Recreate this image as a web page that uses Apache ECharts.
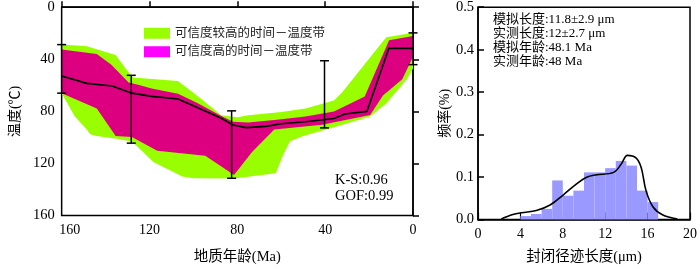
<!DOCTYPE html>
<html><head><meta charset="utf-8">
<script src="https://cdn.jsdelivr.net/npm/echarts@6/dist/echarts.min.js"></script>
<style>html,body{margin:0;padding:0;background:#fff}#c{width:700px;height:269px}</style>
</head><body><div id="c"></div>
<script>
// ---- left panel data (age Ma, temperature °C) ----
const ageTicks = [160, 120, 80, 40, 0];
const tempTicks = [0, 40, 80, 120, 160];
const greenTop = [[160,28.6],[148.5,30],[135.4,36.6],[130,49],[127.4,54],[107,56.6],[97.5,69],[87.3,83],[80,84.5],[75,83],[60,80.5],[49,77.8],[36,71.6],[32.6,66],[12.2,23],[0,19.5]];
const greenBottom = [[160,66],[154,84],[149,93],[147,97.5],[144,99],[135,101],[128,103.2],[118,119],[105,130],[100,131.4],[81.5,131.5],[62.5,127.6],[59,113],[56,103],[50,99],[37,92.7],[19.5,84],[12.2,74],[2.8,55.3],[0,47]];
const magentaTop = [[160,32.4],[144,36],[137.5,44],[129.5,57.8],[125.2,59.5],[119,62.5],[107,66.5],[98.2,73.5],[87.3,83.5],[82,88],[75,88.5],[62,86.5],[49,84],[36,80],[22,68.5],[10.9,25.4],[0,22]];
const magentaBottom = [[160,66],[144,77.8],[135.4,99],[128,99.7],[116.5,110.2],[94.6,114],[81.5,128.8],[73.4,111.4],[63.2,94],[41.4,90.2],[19.5,82.8],[13.7,67.8],[4.9,55.3],[0,38]];
const bestPath = [[160,52.8],[148.5,58.5],[137,60.5],[128,66],[119,68.5],[107,70.5],[99,76.5],[87.3,85.3],[82,90.5],[76,92.5],[67,91.5],[60,89.5],[49,88],[36,85.5],[31,82],[21,80],[11,31.6],[0,31.6]];
const errorBars = [[160,28.7,66],[128.3,52.3,104.4],[82.6,79.6,131.4],[40.3,41.1,92.7],[0,19.7,44.1]];
const fitText = ['K-S:0.96', 'GOF:0.99'];

// ---- right panel data (length µm, frequency) ----
const lengthTicks = [0, 4, 8, 12, 16, 20];
const freqTicks = [0, 0.1, 0.2, 0.3, 0.4, 0.5];
const binStart = [4,5,6,7,8,9,10,11,12,13,14,15,16];
const binFreq = [0.008,0.013,0.025,0.092,0.056,0.068,0.111,0.111,0.121,0.138,0.127,0.068,0.041];
const curveLen = [2.2,3.2,4.1,5.5,6.8,8.0,9.3,10.2,11.1,12.8,13.5,14.1,14.9,15.4,15.85,16.5,17.4,18.8];
const curveFreq = [0.001,0.011,0.016,0.021,0.034,0.057,0.084,0.099,0.105,0.111,0.130,0.151,0.145,0.122,0.068,0.030,0.011,0.001];
const statText = ['模拟长度:11.8±2.9 μm', '实测长度:12±2.7 μm', '模拟年龄:48.1 Ma', '实测年龄:48 Ma'];

const FF = "'Liberation Serif','Noto Sans CJK SC',serif";
const chart = echarts.init(document.getElementById('c'));

function polyRender(top, bottom) {
  return function (params, api) {
    if (params.dataIndex !== 0) return;
    const pts = top.map(p => api.coord(p)).concat(bottom.slice().reverse().map(p => api.coord(p)));
    return { type: 'polygon', shape: { points: pts }, style: { fill: api.visual('color') } };
  };
}

const commonAxisLine = { show: true, lineStyle: { color: '#000', width: 1.5 } };

chart.setOption({
  animation: false,
  grid: [
    { left: 47, top: 6, width: 366, height: 214, show: true, borderColor: '#000', borderWidth: 1.5 },
    { left: 478, top: 6, width: 213, height: 217, show: true, borderColor: '#000', borderWidth: 1.5 }
  ],
  legend: {
    left: 139, top: 22, orient: 'vertical', itemWidth: 26, itemHeight: 11, itemGap: 6, icon: 'rect',
    selectedMode: false,
    textStyle: { fontSize: 12.5, color: '#222', fontFamily: FF },
    data: [
      { name: '可信度较高的时间－温度带', itemStyle: { color: '#99ff00' } },
      { name: '可信度高的时间－温度带', itemStyle: { color: '#ff00ff' } }
    ]
  },
  xAxis: [
    {
      gridIndex: 0, type: 'value', min: 0, max: 160, interval: 40, inverse: true,
      name: '地质年龄(Ma)', nameLocation: 'middle', nameGap: 34,
      nameTextStyle: { fontSize: 14.5, color: '#000', fontFamily: FF },
      axisLine: commonAxisLine,
      axisTick: { show: true, inside: true, length: 6, lineStyle: { color: '#000', width: 1.5 } },
      axisLabel: {
        fontSize: 14, color: '#000', fontFamily: FF, margin: 8,
        formatter: v => (v === ageTicks[0] ? '{s|' + v + '}' : String(v)),
        rich: { s: { fontSize: 14, fontFamily: FF, color: '#000', padding: [0, 0, 0, 16] } }
      },
      splitLine: { show: false }
    },
    {
      gridIndex: 1, type: 'value', min: 0, max: 20, interval: 4,
      name: '封闭径迹长度(μm)', nameLocation: 'middle', nameGap: 30,
      nameTextStyle: { fontSize: 14.5, color: '#000', fontFamily: FF },
      axisLine: commonAxisLine,
      axisTick: { show: true, inside: true, length: 7, lineStyle: { color: '#000', width: 1.2 } },
      axisLabel: { fontSize: 14, color: '#000', fontFamily: FF, margin: 8 },
      splitLine: { show: false }
    }
  ],
  yAxis: [
    {
      gridIndex: 0, type: 'value', min: 0, max: 160, interval: 40, inverse: true,
      name: '温度(℃)', nameLocation: 'middle', nameGap: 30,
      nameTextStyle: { fontSize: 14, color: '#000', fontFamily: FF },
      axisLine: commonAxisLine,
      axisTick: { show: true, inside: true, length: 6, lineStyle: { color: '#000', width: 1.5 } },
      axisLabel: { fontSize: 14.5, color: '#000', fontFamily: FF, margin: 7 },
      splitLine: { show: false }
    },
    {
      gridIndex: 1, type: 'value', min: 0, max: 0.5, interval: 0.1,
      name: '频率(%)', nameLocation: 'middle', nameGap: 24,
      nameTextStyle: { fontSize: 14, color: '#000', fontFamily: FF },
      axisLine: commonAxisLine,
      axisTick: { show: true, inside: true, length: 6, lineStyle: { color: '#000', width: 1.5 } },
      axisLabel: { fontSize: 14.5, color: '#000', fontFamily: FF, margin: 4, formatter: v => v.toFixed(1) },
      splitLine: { show: false }
    }
  ],
  series: [
    {
      name: '可信度较高的时间－温度带', type: 'custom', xAxisIndex: 0, yAxisIndex: 0,
      itemStyle: { color: '#99ff00' }, data: [[0, 0]], renderItem: polyRender(greenTop, greenBottom), silent: true, z: 2
    },
    {
      name: '可信度高的时间－温度带', type: 'custom', xAxisIndex: 0, yAxisIndex: 0,
      itemStyle: { color: '#dc0080' }, data: [[0, 0]], renderItem: polyRender(magentaTop, magentaBottom), silent: true, z: 3
    },
    {
      name: 'best', type: 'line', xAxisIndex: 0, yAxisIndex: 0, data: bestPath, showSymbol: false,
      lineStyle: { color: '#000', width: 1.6 }, itemStyle: { color: '#000' }, z: 4, silent: true
    },
    {
      name: 'err', type: 'custom', xAxisIndex: 0, yAxisIndex: 0, data: errorBars, clip: false, z: 5, silent: true,
      renderItem: function (params, api) {
        const a = api.coord([api.value(0), api.value(1)]);
        const b = api.coord([api.value(0), api.value(2)]);
        const w = 4.5;
        const st = { stroke: '#000', lineWidth: 1.5 };
        return {
          type: 'group', children: [
            { type: 'line', shape: { x1: a[0], y1: a[1], x2: b[0], y2: b[1] }, style: st },
            { type: 'line', shape: { x1: a[0] - w, y1: a[1], x2: a[0] + w, y2: a[1] }, style: st },
            { type: 'line', shape: { x1: b[0] - w, y1: b[1], x2: b[0] + w, y2: b[1] }, style: st }
          ]
        };
      }
    },
    {
      name: 'hist', type: 'custom', xAxisIndex: 1, yAxisIndex: 1, silent: true, z: 2,
      data: binStart.map((s, i) => [s, binFreq[i]]),
      renderItem: function (params, api) {
        const s = api.value(0);
        const p0 = api.coord([s, 0]);
        const p1 = api.coord([s + 1, api.value(1)]);
        return { type: 'rect', shape: { x: p0[0], y: p1[1], width: p1[0] - p0[0], height: p0[1] - p1[1] }, style: { fill: '#9999ff' } };
      }
    },
    {
      name: 'curve', type: 'line', xAxisIndex: 1, yAxisIndex: 1, silent: true, z: 4,
      data: curveLen.map((x, i) => [x, curveFreq[i]]), smooth: 0.35, showSymbol: false,
      lineStyle: { color: '#000', width: 1.6 }, itemStyle: { color: '#000' }
    }
  ],
  graphic: [
    { type: 'text', left: 335, top: 172, z: 10, style: { text: fitText.join('\n'), font: '14.5px ' + FF, lineHeight: 16, fill: '#000' } },
    { type: 'text', left: 493, top: 13, z: 10, style: { text: statText.join('\n'), font: '13px ' + FF, lineHeight: 13.9, fill: '#000' } }
  ]
});
</script>
</body></html>
